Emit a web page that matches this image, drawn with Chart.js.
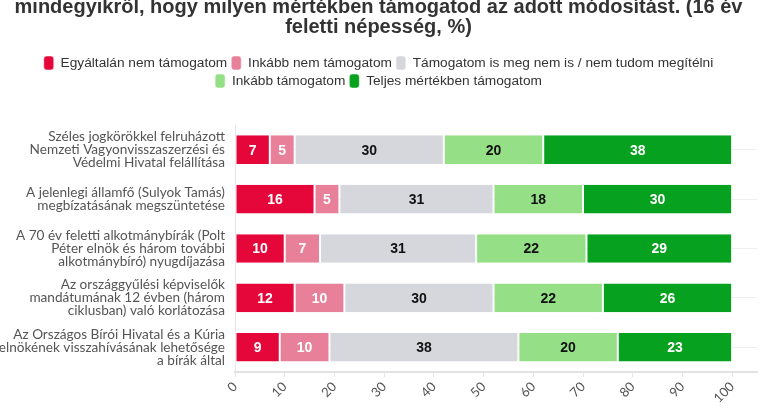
<!DOCTYPE html>
<html>
<head>
<meta charset="utf-8">
<script src="https://cdn.jsdelivr.net/npm/chart.js@4/dist/chart.umd.min.js"></script>
<style>
  html, body { margin: 0; padding: 0; background: #fff; }
  #wrap { position: relative; width: 763px; height: 416px; overflow: hidden; }
  #box { position: absolute; left: 0; top: -3px; width: 763px; height: 419px; }
</style>
</head>
<body>
<div id="wrap"><div id="box"><canvas id="chart"></canvas></div></div>
<script>
const titleLines = [
  'mindegyikről, hogy milyen mértékben támogatod az adott módosítást. (16 év',
  'feletti népesség, %)'
];
const categories = [
  ['Széles jogkörökkel felruházott', 'Nemzeti Vagyonvisszaszerzési és', 'Védelmi Hivatal felállítása'],
  ['A jelenlegi államfő (Sulyok Tamás)', 'megbízatásának megszüntetése'],
  ['A 70 év feletti alkotmánybírák (Polt', 'Péter elnök és három további', 'alkotmánybíró) nyugdíjazása'],
  ['Az országgyűlési képviselők', 'mandátumának 12 évben (három', 'ciklusban) való korlátozása'],
  ['Az Országos Bírói Hivatal és a Kúria', 'elnökének visszahívásának lehetősége', 'a bírák által']
];
const seriesNames = [
  'Egyáltalán nem támogatom',
  'Inkább nem támogatom',
  'Támogatom is meg nem is / nem tudom megítélni',
  'Inkább támogatom',
  'Teljes mértékben támogatom'
];
// shown labels are rounded; third row
const notAtAll = [7, 16, 10, 12, 9];
const ratherNot = [5, 5, 7.1, 10, 10];
const neutral = [30, 31, 31.4, 30, 38];
const rather = [20, 18, 22.2, 22, 20];
const fully = [38, 30, 29.3, 26, 23];
const xTicks = [0, 10, 20, 30, 40, 50, 60, 70, 80, 90, 100];

const colors = ['#e5073a', '#e8809a', '#d5d7dd', '#95e087', '#06a11e'];
const labelColors = ['#ffffff', '#ffffff', '#111111', '#111111', '#ffffff'];
const values = [notAtAll, ratherNot, neutral, rather, fully];

// draws the numbers inside the segments
const segmentLabels = {
  id: 'segmentLabels',
  afterDatasetsDraw(chart) {
    const ctx = chart.ctx;
    ctx.save();
    ctx.font = 'bold 14px "Liberation Sans", Arial, sans-serif';
    ctx.textAlign = 'center';
    ctx.textBaseline = 'middle';
    chart.data.datasets.forEach((ds, i) => {
      chart.getDatasetMeta(i).data.forEach((bar, j) => {
        ctx.fillStyle = labelColors[i];
        const x = (bar.x + bar.base) / 2;
        ctx.fillText(Math.round(ds.data[j]), x, bar.y + 1);
      });
    });
    ctx.restore();
  }
};

// extra gap under the legend
const legendGap = {
  id: 'legendGap',
  beforeInit(chart) {
    const fit = chart.legend.fit;
    chart.legend.fit = function () {
      fit.bind(chart.legend)();
      this.height += 27;
    };
  }
};

new Chart(document.getElementById('chart'), {
  type: 'bar',
  data: {
    labels: categories,
    datasets: seriesNames.map((name, i) => ({
      label: name,
      data: values[i],
      backgroundColor: colors[i],
      borderColor: '#ffffff',
      borderWidth: {left: 1, right: 1, top: 0, bottom: 0},
      borderSkipped: false,
      barPercentage: 0.58,
      categoryPercentage: 1
    }))
  },
  options: {
    indexAxis: 'y',
    responsive: true,
    maintainAspectRatio: false,
    animation: false,
    layout: {padding: {left: 0, right: 6, top: 0, bottom: 8}},
    plugins: {
      title: {
        display: true,
        text: titleLines,
        color: '#333333',
        font: {family: '"Liberation Sans Narrow", "Liberation Sans", sans-serif', size: 20, weight: 'bold', lineHeight: 1.0},
        padding: {top: 0, bottom: 15}
      },
      legend: {
        position: 'top',
        labels: {
          color: '#333333',
          font: {family: '"Liberation Sans Narrow", "Liberation Sans", sans-serif', size: 13.7},
          boxWidth: 10,
          boxHeight: 14,
          padding: 4,
          useBorderRadius: true,
          borderRadius: 3
        }
      },
      tooltip: {enabled: false}
    },
    scales: {
      x: {
        stacked: true,
        min: 0,
        max: 105,
        afterBuildTicks: s => { s.ticks = xTicks.map(v => ({value: v})); },
        ticks: {
          color: '#555555',
          font: {family: 'Lato, sans-serif', size: 13},
          minRotation: 45,
          maxRotation: 45,
          padding: 2
        },
        grid: {display: true, drawOnChartArea: false, drawTicks: true, tickLength: 5, color: '#e6e6e6'},
        border: {display: true, color: '#e2e2e2', width: 2}
      },
      y: {
        stacked: true,
        afterFit: s => { s.width = 235; },
        ticks: {
          color: '#555555',
          font: {family: 'Lato, sans-serif', size: 13.6, lineHeight: 0.95},
          padding: 10
        },
        grid: {display: true, offset: false, drawTicks: false, color: '#eeeeee'},
        border: {display: true, color: '#e6e6e6', width: 1}
      }
    }
  },
  plugins: [segmentLabels, legendGap]
});
</script>
</body>
</html>
